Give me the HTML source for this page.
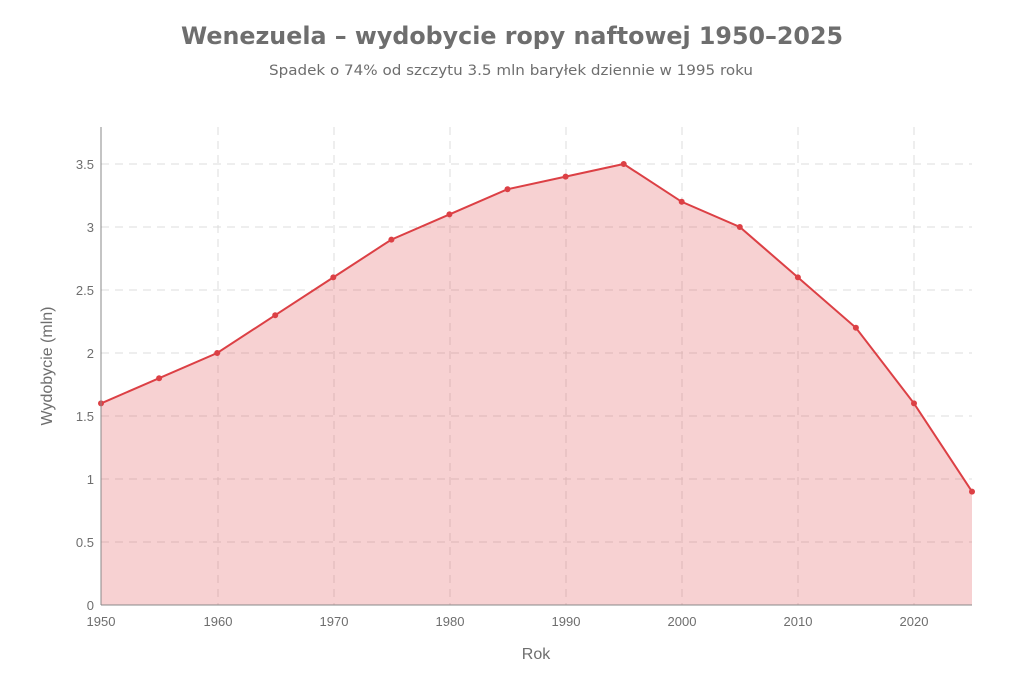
<!DOCTYPE html>
<html><head><meta charset="utf-8"><style>
body{margin:0;background:#fff;}
svg text{font-family:"Liberation Sans","DejaVu Sans",sans-serif;}
svg text.dv{font-family:"DejaVu Sans",sans-serif;}
</style></head><body>
<svg width="1023" height="682" viewBox="0 0 1023 682" xmlns="http://www.w3.org/2000/svg">
<text class="dv" x="512" y="44" text-anchor="middle" font-size="24" font-weight="bold" fill="#6e6e6e" textLength="662" lengthAdjust="spacingAndGlyphs">Wenezuela – wydobycie ropy naftowej 1950–2025</text>
<text class="dv" x="511" y="75" text-anchor="middle" font-size="14" fill="#6e6e6e" textLength="484" lengthAdjust="spacingAndGlyphs">Spadek o 74% od szczytu 3.5 mln baryłek dziennie w 1995 roku</text>
<g stroke="#dcdcdc" stroke-width="1" stroke-dasharray="8,6">
<line x1="101" x2="972" y1="542" y2="542"/><line x1="101" x2="972" y1="479" y2="479"/>
<line x1="101" x2="972" y1="416" y2="416"/><line x1="101" x2="972" y1="353" y2="353"/>
<line x1="101" x2="972" y1="290" y2="290"/><line x1="101" x2="972" y1="227" y2="227"/>
<line x1="101" x2="972" y1="164" y2="164"/>
<line x1="218" x2="218" y1="127" y2="605"/><line x1="334" x2="334" y1="127" y2="605"/>
<line x1="450" x2="450" y1="127" y2="605"/><line x1="566" x2="566" y1="127" y2="605"/>
<line x1="682" x2="682" y1="127" y2="605"/><line x1="798" x2="798" y1="127" y2="605"/>
<line x1="914" x2="914" y1="127" y2="605"/>
</g>
<path d="M101,403.4 L159.1,378.2 L217.2,353 L275.2,315.2 L333.3,277.4 L391.4,239.6 L449.4,214.4 L507.5,189.2 L565.6,176.6 L623.7,164 L681.7,201.8 L739.8,227 L797.9,277.4 L855.9,327.8 L914,403.4 L972,491.6 L972,605 L101,605Z" fill="#e0474c" fill-opacity="0.25"/>
<path d="M101,403.4 L159.1,378.2 L217.2,353 L275.2,315.2 L333.3,277.4 L391.4,239.6 L449.4,214.4 L507.5,189.2 L565.6,176.6 L623.7,164 L681.7,201.8 L739.8,227 L797.9,277.4 L855.9,327.8 L914,403.4 L972,491.6" fill="none" stroke="#dc4045" stroke-width="2"/>
<g fill="#dc4045">
<circle cx="101" cy="403.4" r="3"/><circle cx="159.1" cy="378.2" r="3"/><circle cx="217.2" cy="353" r="3"/><circle cx="275.2" cy="315.2" r="3"/><circle cx="333.3" cy="277.4" r="3"/><circle cx="391.4" cy="239.6" r="3"/><circle cx="449.4" cy="214.4" r="3"/><circle cx="507.5" cy="189.2" r="3"/><circle cx="565.6" cy="176.6" r="3"/><circle cx="623.7" cy="164" r="3"/><circle cx="681.7" cy="201.8" r="3"/><circle cx="739.8" cy="227" r="3"/><circle cx="797.9" cy="277.4" r="3"/><circle cx="855.9" cy="327.8" r="3"/><circle cx="914" cy="403.4" r="3"/><circle cx="972" cy="491.6" r="3"/>
</g>
<line x1="101" x2="101" y1="127" y2="605" stroke="#888" stroke-width="1"/>
<line x1="101" x2="972" y1="605" y2="605" stroke="#888" stroke-width="1"/>
<g font-size="13" fill="#6e6e6e" text-anchor="end">
<text x="94" y="610">0</text><text x="94" y="547">0.5</text><text x="94" y="484">1</text><text x="94" y="421">1.5</text><text x="94" y="358">2</text><text x="94" y="295">2.5</text><text x="94" y="232">3</text><text x="94" y="169">3.5</text>
</g>
<g font-size="13" fill="#6e6e6e" text-anchor="middle">
<text x="101" y="626">1950</text><text x="218" y="626">1960</text><text x="334" y="626">1970</text><text x="450" y="626">1980</text><text x="566" y="626">1990</text><text x="682" y="626">2000</text><text x="798" y="626">2010</text><text x="914" y="626">2020</text>
</g>
<text x="536" y="659" text-anchor="middle" font-size="16" fill="#6e6e6e">Rok</text>
<text transform="translate(52,366) rotate(-90)" text-anchor="middle" font-size="16" fill="#6e6e6e">Wydobycie (mln)</text>
</svg>
</body></html>
